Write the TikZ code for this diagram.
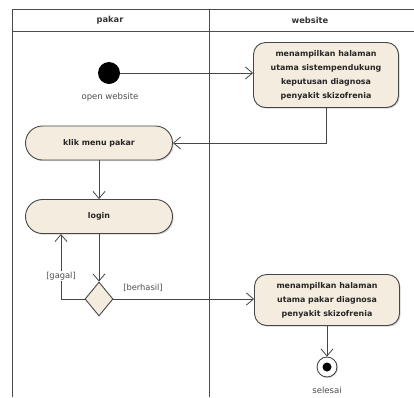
\documentclass[tikz,border=0pt]{standalone}
\usepackage{fontspec}
\setmainfont{DejaVu Sans}
\usetikzlibrary{arrows.meta,shapes.geometric,shadows}
\definecolor{beige}{RGB}{244,236,222}
\definecolor{edge}{RGB}{70,70,70}
\begin{document}
\begin{tikzpicture}[x=1pt,y=-1pt,
  act/.style={draw=edge,line width=0.9pt,fill=beige,align=center,inner sep=0pt,
    font=\fontsize{7.9}{14}\selectfont\bfseries,text=black!85,
    drop shadow={shadow xshift=1.2pt,shadow yshift=-1.2pt,opacity=0.35}},
  pill/.style={act,rounded corners=17pt,minimum width=147pt,minimum height=34pt},
  box/.style={act,rounded corners=12pt,minimum width=145pt},
  arr/.style={draw=edge,line width=0.8pt,-{Straight Barb[length=7pt,width=12pt,line width=0.8pt]}},
  lbl/.style={font=\fontsize{8.3}{9}\selectfont,text=black!70,inner sep=1pt},
  frame/.style={draw=black!70,line width=0.9pt}]
\useasboundingbox (0,0) rectangle (414,397);
% swimlane frame
\draw[frame] (12,397) -- (12,9) -- (414,9);
\draw[frame] (12,31) -- (414,31);
\draw[frame] (209,9) -- (209,397);
\node[font=\fontsize{8.3}{9}\selectfont\bfseries,text=black!80] (hp) at (110,20) {pakar};
\node[font=\fontsize{8.3}{9}\selectfont\bfseries,text=black!80] (hw) at (310,20) {website};
% nodes
\node[circle,fill=black,minimum size=22pt,inner sep=0pt] (start) at (109,73) {};
\node[lbl,font=\fontsize{8.5}{9}\selectfont] (startl) at (110,97) {open website};
\node[box,minimum height=65pt] (b1) at (326,75) {menampilkan halaman\\utama sistempendukung\\keputusan diagnosa\\penyakit skizofrenia};
\node[pill] (klik) at (99,143) {klik menu pakar};
\node[pill] (login) at (99,216.5) {login};
\node[diamond,draw=edge,line width=0.9pt,fill=beige,inner sep=0pt,minimum width=28pt,minimum height=34pt] (dec) at (99,299) {};
\node[box,minimum height=51pt] (b3) at (327,300) {menampilkan halaman\\utama pakar diagnosa\\penyakit skizofrenia};
\node[circle,draw=edge,line width=0.9pt,fill=white,minimum size=20pt,inner sep=0pt,
  drop shadow={shadow xshift=1pt,shadow yshift=-1pt,opacity=0.3}] (end) at (327,367) {};
\node[circle,fill=black,minimum size=9pt,inner sep=0pt] (endin) at (end) {};
\node[lbl,font=\fontsize{8.5}{9}\selectfont] (endl) at (327,390) {selesai};
% edges
\draw[arr] (start) -- (start -| b1.west);
\draw[arr] (b1.south) |- (klik.east);
\draw[arr] (klik) -- (login);
\draw[arr] (login) -- (dec);
\coordinate (gl) at (61,234);
\draw[arr] (dec.west) -| (gl);
\node[lbl,fill=white] (gagal) at (61,276) {[gagal]};
\draw[arr] (dec.east) -- (dec.east -| b3.west);
\node[lbl] (berhasil) at (143,288) {[berhasil]};
\draw[arr] (b3) -- (end);
\end{tikzpicture}
\end{document}
